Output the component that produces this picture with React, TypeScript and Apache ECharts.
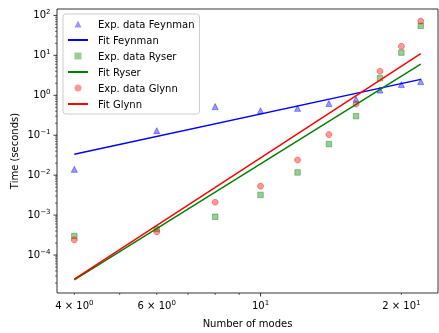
import React, { useEffect, useRef } from 'react';
import * as echarts from 'echarts';

const modes = [4, 6, 8, 10, 12, 14, 16, 18, 20, 22];
const feynmanTimes = [0.014, 0.13, 0.52, 0.41, 0.47, 0.62, 0.79, 1.35, 1.85, 2.2];
const ryserTimes = [3.0e-4, 4.5e-4, 9.1e-4, 3.2e-3, 0.0117, 0.06, 0.3, 2.66, 11.7, 55];
const glynnTimes = [2.4e-4, 3.8e-4, 2.1e-3, 5.3e-3, 0.024, 0.104, 0.6, 4.0, 16.8, 72];

const fitModes = [4, 22];
const fitFeynman = [0.0335, 2.5];
const fitRyser = [2.4e-5, 6.0];
const fitGlynn = [2.5e-5, 11];

const xMin = 3.673;
const xMax = 23.95;
const yMin = 1.122e-5;
const yMax = 144.5;

const xLabelValues = [4, 6, 10, 20];
const xLabelMantissas = ['4 × 10', '6 × 10', '10', '2 × 10'];
const xLabelExponents = ['0', '0', '1', '1'];
const xMajorTicks = [10];
const xMinorTicks = [4, 5, 6, 7, 8, 9, 20];

const yLabelValues = [1e-4, 1e-3, 1e-2, 1e-1, 1, 10, 100];
const yLabelExponents = ['−4', '−3', '−2', '−1', '0', '1', '2'];
const yDecades = [-5, -4, -3, -2, -1, 0, 1, 2];
const yMinorMantissas = [2, 3, 4, 5, 6, 7, 8, 9];

const FONT = 'DejaVu Sans';

const TRIANGLE_ICON = 'path://M3,0L6,6L0,6Z';
const SQUARE_ICON = 'path://M0,0L6,0L6,6L0,6Z';
const CIRCLE_ICON = 'path://M0,3A3,3,0,1,1,6,3A3,3,0,1,1,0,3Z';

const pair = (xs: number[], ys: number[]) => xs.map((x, i) => [x, ys[i]]);

export default function App() {
  const ref = useRef<HTMLDivElement>(null);
  useEffect(() => {
    if (!ref.current) return;
    const chart = echarts.init(ref.current, null, { renderer: 'svg' });
    const blue = 'rgba(0,0,255,0.5)';
    const green = 'rgba(0,128,0,0.5)';
    const red = 'rgba(255,0,0,0.5)';
    const hiddenSymbol = { opacity: 0 };
    const flatIcon = { borderWidth: 0 };
    const option: any = {
      animation: false,
      grid: {
        left: 57,
        right: 1,
        top: 9,
        bottom: 39,
        show: true,
        borderColor: '#000',
        borderWidth: 0.8,
        backgroundColor: 'transparent',
      },
      legend: {
        orient: 'vertical',
        left: 63,
        top: 14,
        padding: [5, 5, 5, 4],
        itemWidth: 20,
        itemHeight: 7,
        itemGap: 6,
        symbolKeepAspect: true,
        borderColor: '#cccccc',
        borderWidth: 1,
        borderRadius: 3,
        backgroundColor: 'rgba(255,255,255,0.8)',
        textStyle: { fontSize: 10, fontFamily: FONT, color: '#000', lineHeight: 10, padding: [0, 0, 0, 5] },
        data: [
          { name: 'Exp. data Feynman', icon: TRIANGLE_ICON, itemStyle: flatIcon },
          { name: 'Fit Feynman', itemStyle: hiddenSymbol },
          { name: 'Exp. data Ryser', icon: SQUARE_ICON, itemStyle: flatIcon },
          { name: 'Fit Ryser', itemStyle: hiddenSymbol },
          { name: 'Exp. data Glynn', icon: CIRCLE_ICON, itemStyle: flatIcon },
          { name: 'Fit Glynn', itemStyle: hiddenSymbol },
        ],
      },
      xAxis: {
        type: 'log',
        logBase: 10,
        min: xMin,
        max: xMax,
        axisLine: { show: false },
        axisTick: { show: false },
        axisLabel: { show: false },
        splitLine: { show: false },
        name: 'Number of modes',
        nameLocation: 'middle',
        nameGap: 25,
        nameTextStyle: { fontSize: 10, fontFamily: FONT, color: '#000' },
      },
      yAxis: {
        type: 'log',
        logBase: 10,
        min: yMin,
        max: yMax,
        axisLine: { show: false },
        axisTick: { show: false },
        axisLabel: { show: false },
        splitLine: { show: false },
        name: 'Time (seconds)',
        nameLocation: 'middle',
        nameGap: 38,
        nameTextStyle: { fontSize: 10, fontFamily: FONT, color: '#000' },
      },
      series: [
        {
          name: 'Exp. data Feynman',
          type: 'scatter',
          symbol: 'triangle',
          symbolSize: 6,
          itemStyle: { color: blue, borderColor: blue, borderWidth: 1 },
          data: pair(modes, feynmanTimes),
        },
        {
          name: 'Fit Feynman',
          type: 'line',
          symbol: 'none',
          showSymbol: false,
          lineStyle: { color: '#0000ff', width: 1.5 },
          itemStyle: { color: '#0000ff' },
          data: pair(fitModes, fitFeynman),
        },
        {
          name: 'Exp. data Ryser',
          type: 'scatter',
          symbol: 'rect',
          symbolSize: 5.5,
          itemStyle: { color: green, borderColor: green, borderWidth: 1 },
          data: pair(modes, ryserTimes),
        },
        {
          name: 'Fit Ryser',
          type: 'line',
          symbol: 'none',
          showSymbol: false,
          lineStyle: { color: '#008000', width: 1.5 },
          itemStyle: { color: '#008000' },
          data: pair(fitModes, fitRyser),
        },
        {
          name: 'Exp. data Glynn',
          type: 'scatter',
          symbol: 'circle',
          symbolSize: 6,
          itemStyle: { color: red, borderColor: red, borderWidth: 1 },
          data: pair(modes, glynnTimes),
        },
        {
          name: 'Fit Glynn',
          type: 'line',
          symbol: 'none',
          showSymbol: false,
          lineStyle: { color: '#ff0000', width: 1.5 },
          itemStyle: { color: '#ff0000' },
          data: pair(fitModes, fitGlynn),
        },
      ],
    };
    chart.setOption(option);

    const toX = (v: number) => chart.convertToPixel({ xAxisIndex: 0 }, v) as number;
    const toY = (v: number) => chart.convertToPixel({ yAxisIndex: 0 }, v) as number;
    const bottom = toY(yMin);
    const left = toX(xMin);
    const g: any[] = [];
    const rich = {
      m: { fontSize: 10, fontFamily: FONT, fill: '#000', lineHeight: 12 },
      e: { fontSize: 7, fontFamily: FONT, fill: '#000', verticalAlign: 'top', lineHeight: 12 },
    };
    const tick = (x1: number, y1: number, x2: number, y2: number, w: number) =>
      g.push({ type: 'line', silent: true, shape: { x1, y1, x2, y2 }, style: { stroke: '#000', lineWidth: w } });

    xMajorTicks.forEach((v) => {
      const px = toX(v);
      tick(px, bottom, px, bottom + 3.5, 0.8);
    });
    xMinorTicks.forEach((v) => {
      const px = toX(v);
      tick(px, bottom, px, bottom + 2, 0.6);
    });
    xLabelValues.forEach((v, i) => {
      g.push({
        type: 'text',
        silent: true,
        x: toX(v),
        y: bottom + 6,
        style: {
          text: `{m|${xLabelMantissas[i]}}{e|${xLabelExponents[i]}}`,
          rich,
          align: 'center',
          verticalAlign: 'top',
        },
      });
    });
    yLabelValues.forEach((v, i) => {
      const py = toY(v);
      tick(left, py, left - 3.5, py, 0.8);
      g.push({
        type: 'text',
        silent: true,
        x: left - 6.5,
        y: py - 1,
        style: {
          text: `{m|10}{e|${yLabelExponents[i]}}`,
          rich,
          align: 'right',
          verticalAlign: 'middle',
        },
      });
    });
    yDecades.forEach((d) => {
      yMinorMantissas.forEach((m) => {
        const v = m * Math.pow(10, d);
        if (v > yMin && v < yMax) {
          const py = toY(v);
          tick(left, py, left - 2, py, 0.6);
        }
      });
    });
    chart.setOption({ graphic: g });

    return () => chart.dispose();
  }, []);
  return <div ref={ref} style={{ position: 'fixed', left: 0, top: 0, width: 439, height: 333 }} />;
}
